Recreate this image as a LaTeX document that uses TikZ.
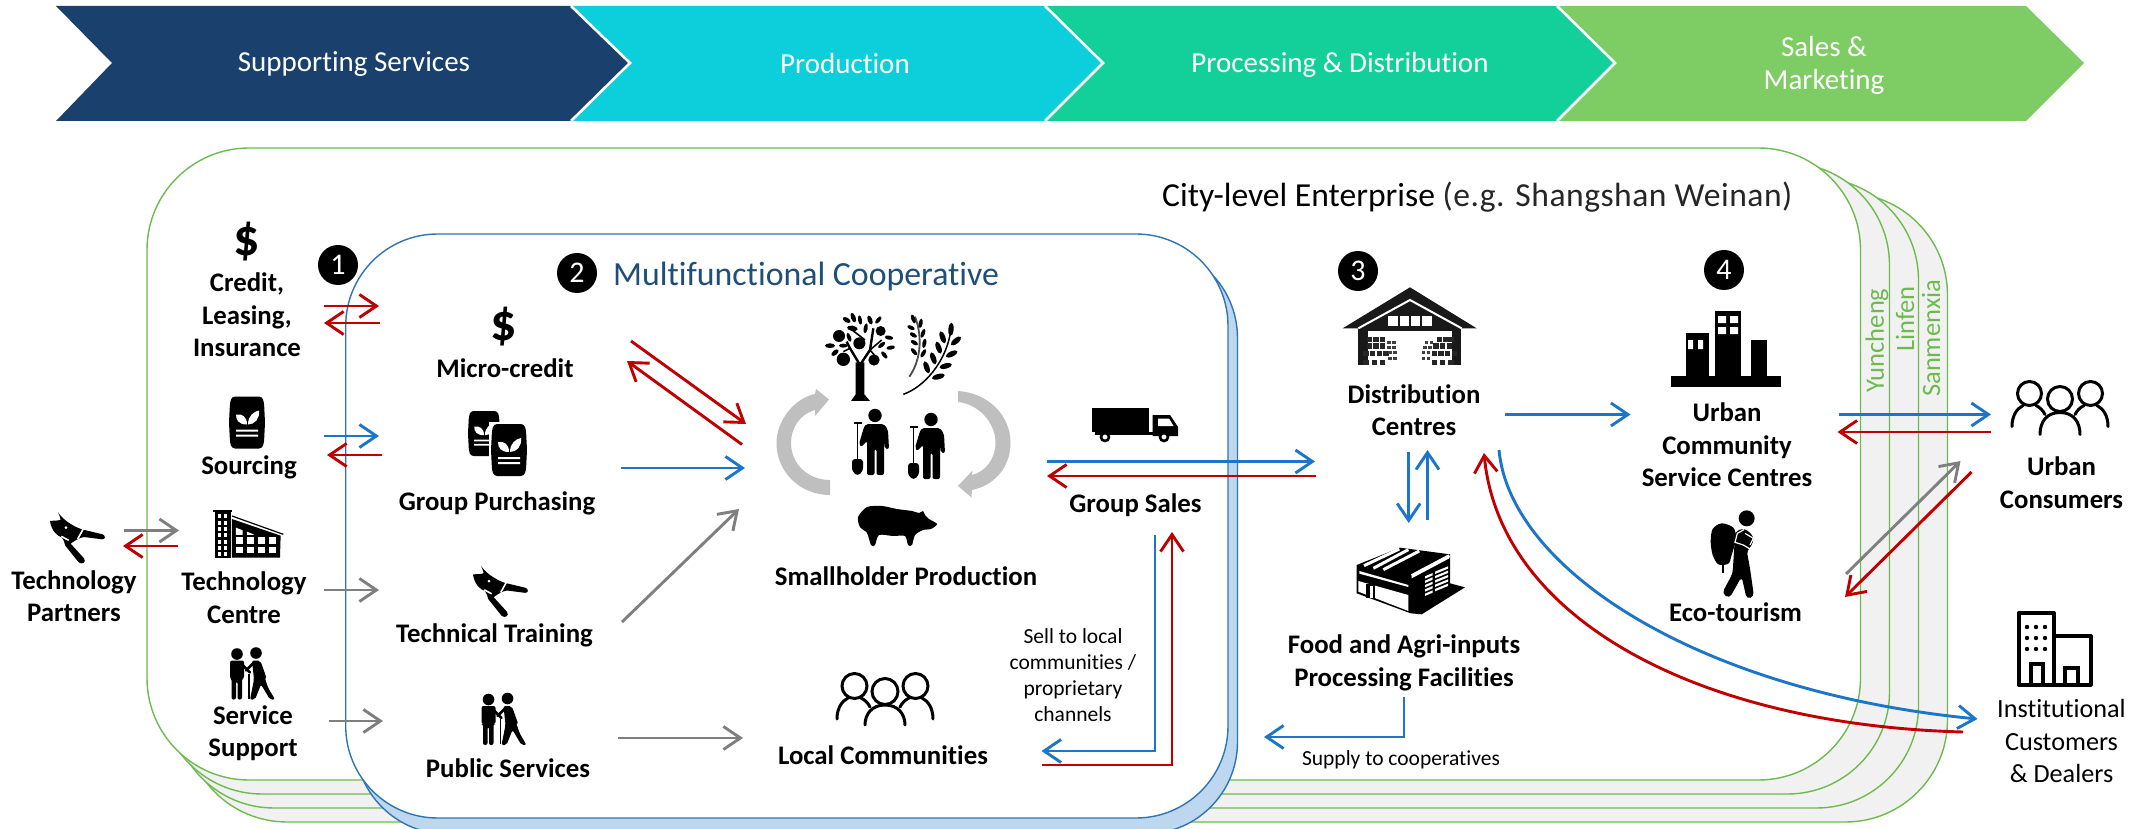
\documentclass[tikz,border=0pt]{standalone}
\usepackage{fontspec}
\setmainfont{Carlito}[Ligatures={NoCommon,TeX}]
\usetikzlibrary{arrows.meta}
\definecolor{navy}{HTML}{1A406D}
\definecolor{cyanbar}{HTML}{0DCFDB}
\definecolor{tealbar}{HTML}{13D09B}
\definecolor{greenbar}{HTML}{7ECC64}
\definecolor{greenline}{HTML}{6DBB4E}
\definecolor{stackfill}{HTML}{F1F1F1}
\definecolor{coopline}{HTML}{2E75B6}
\definecolor{coopback}{HTML}{BDD7EE}
\definecolor{arrblue}{HTML}{1B75C9}
\definecolor{arrred}{HTML}{C00000}
\definecolor{arrgrey}{HTML}{7F7F7F}
\definecolor{cyclegrey}{HTML}{BFBFBF}
\definecolor{cooptitle}{HTML}{1F4E79}
\tikzset{
  stackbox/.style={draw=greenline,line width=1.4pt,fill=stackfill,rounded corners=102pt},
  chevsep/.style={draw=white,line width=2.6pt,line join=miter},
  chevtext/.style={text=white,inner sep=0pt,align=center,font=\fontsize{29}{33}\selectfont},
  lab/.style={inner sep=0pt,align=center,font=\fontsize{26.8}{32.4}\selectfont\bfseries},
  reglab/.style={inner sep=0pt,align=center,font=\fontsize{26.2}{32.4}\selectfont},
  smalllab/.style={inner sep=0pt,align=center,font=\fontsize{21.5}{26}\selectfont},
  citylab/.style={inner sep=0pt,rotate=90,anchor=west,text=greenline,font=\fontsize{26.5}{26}\selectfont},
  numdot/.style={circle,fill=black,text=white,inner sep=0pt,minimum size=40pt,font=\fontsize{30}{30}\selectfont},
  dollar/.style={inner sep=0pt,font=\fontsize{52}{52}\selectfont\bfseries},
  bluearr/.style={draw=arrblue,line width=2.9pt,-{Straight Barb[length=17pt,width=23pt,line width=2.9pt]}},
  redarr/.style={draw=arrred,line width=2.9pt,-{Straight Barb[length=17pt,width=23pt,line width=2.9pt]}},
  greyarr/.style={draw=arrgrey,line width=2.9pt,-{Straight Barb[length=17pt,width=23pt,line width=2.9pt]}},
  peopleline/.style={draw=black,line width=3pt,line cap=round}
}
\newcommand\conn[6]{\coordinate (#1a) at (#3,#4);\coordinate (#1b) at (#5,#6);\draw[#2] (#1a) -- (#1b);}
\newcommand\sackicon[4]{\begin{scope}[shift={(#1,#2)},xscale=#3/36,yscale=#4/52]
 \fill[black,rounded corners=3pt] (3,0) -- (33,0) -- (35,6) -- (36,26) -- (35,46) -- (33,52) -- (3,52) -- (1,46) -- (0,26) -- (1,6) -- cycle;
 \fill[white] (18,28) .. controls (10,28) and (7,24) .. (7,18) .. controls (13,17) and (18,20) .. (18,28) -- cycle;
 \fill[white] (19,28) .. controls (19,19) and (25,15) .. (30,14) .. controls (31,22) and (26,28) .. (19,28) -- cycle;
 \fill[white] (7,33) rectangle (29,35) (7,38) rectangle (29,40);
\end{scope}}
\newcommand\shearsicon[2]{\begin{scope}[shift={(#1,#2)},scale=0.3333]
 \fill[black] (30,48) .. controls (42,46) and (55,48) .. (62,44) .. controls (62,36) and (56,30) .. (54,22) .. controls (66,40) and (90,60) .. (125,73) -- (188,88) .. controls (198,92) and (196,104) .. (186,103) -- (132,96) .. controls (120,98) and (108,104) .. (92,116) -- (132,160) .. controls (140,172) and (126,180) .. (116,172) -- (76,122) .. controls (72,112) and (72,104) .. (66,98) .. controls (50,92) and (34,76) .. (30,48) -- cycle;
 \fill[white] (78,68) circle (4.5);
 \draw[white,line width=1.6pt] (132,68) -- (113,102);
 \draw[white,line width=1.6pt] (64,94) -- (86,106);
\end{scope}}
\newcommand\coupleicon[4]{\begin{scope}[shift={(#1,#2)},xscale=#3/50,yscale=#4/52]
 \fill[black] (11,6.5) circle (5.8) (30,5.5) circle (5.8);
 \fill[black,rounded corners=2pt] (4,13) -- (18,13) -- (18,31) -- (16,31) -- (16,52) -- (11.5,52) -- (11.5,34) -- (10,34) -- (10,52) -- (5.5,52) -- (5.5,31) -- (4,31) -- cycle;
 \draw[black,line width=2.6pt,line cap=round] (16,17) -- (24,25);
 \draw[black,line width=1.2pt] (23,26) -- (23,51);
 \fill[black,rounded corners=2pt] (26,13) -- (34,13) -- (38,28) -- (42,40) -- (49,52) -- (44,52) -- (35,37) -- (29,52) -- (24,52) -- (28,32) -- cycle;
 \draw[black,line width=2.6pt,line cap=round] (28,15) -- (20,23);
 \draw[black,line width=2.6pt,line cap=round] (34,16) -- (39,30);
\end{scope}}
\newcommand\farmericon[2]{\begin{scope}[shift={(#1,#2)}]
 \fill[black] (23,6.5) circle (6.7);
 \fill[black,rounded corners=2pt] (14,15) -- (32,15) -- (36,21) -- (37,40) -- (33,40) -- (32,30) -- (32,66) -- (24.5,66) -- (24.5,40) -- (22.5,40) -- (22.5,66) -- (15,66) -- (15,32) -- (9,38) -- (7,35) -- (12,18) -- cycle;
 \draw[black,line width=1.6pt] (5.5,15) -- (5.5,50);
 \draw[black,line width=1.8pt] (1.5,14) -- (9.5,14);
 \fill[black,rounded corners=3pt] (0,50) -- (11,50) -- (11,62) -- (5.5,67) -- (0,62) -- cycle;
\end{scope}}
\newcommand\lf[5]{\fill[black,rotate around={#3:(#1,#2)}] (#1,#2) ellipse (#4 and #5);}
\begin{document}
\begin{tikzpicture}[x=1pt,y=-1pt]
\useasboundingbox (0,0) rectangle (2148,829);
\clip (0,0) rectangle (2148,829);
% value chain
\fill[white] (0,0) rectangle (2148,829);
\fill[greenbar] (1557,6) -- (2026,6) -- (2084,63) -- (2026,121) -- (1557,121) -- (1615,63) -- cycle;
\fill[tealbar] (1045,6) -- (1557,6) -- (1615,63) -- (1557,121) -- (1045,121) -- (1103,63) -- cycle;
\fill[cyanbar] (571,6) -- (1045,6) -- (1103,63) -- (1045,121) -- (571,121) -- (630,63) -- cycle;
\fill[navy] (56,6) -- (571,6) -- (630,63) -- (571,121) -- (56,121) -- (112,63) -- cycle;
\draw[chevsep] (571,6) -- (630,63) -- (571,121);
\draw[chevsep] (1045,6) -- (1103,63) -- (1045,121);
\draw[chevsep] (1557,6) -- (1615,63) -- (1557,121);
\node[chevtext] (chev1) at (354,64.5) {Supporting Services};
\node[chevtext] (chev2) at (845,64) {Production};
\node[chevtext] (chev3) at (1340,64.5) {Processing \& Distribution};
\node[chevtext] (chev4) at (1824,65.5) {Sales \&\\Marketing};
% enterprise stack
\draw[stackbox] (185,193) rectangle (1947.5,822);
\draw[stackbox] (172,178) rectangle (1918.5,808);
\draw[stackbox] (160,163) rectangle (1889.5,794);
\draw[stackbox,fill=white] (147,148) rectangle (1860.5,780);
% cooperative
\draw[draw=coopline,line width=1.4pt,fill=coopback,rounded corners=92pt] (355,246) rectangle (1237.5,834);
\draw[draw=coopline,line width=1.4pt,fill=white,rounded corners=92pt] (345.7,234) rectangle (1228,818);
% city labels
\node[citylab] (yun) at (1877,393) {Yuncheng};
\node[citylab] (lin) at (1905,352) {Linfen};
\node[citylab] (san) at (1931,397) {Sanmenxia};
% titles
\node[inner sep=0pt,anchor=west,font=\fontsize{33.6}{33}\selectfont] (city) at (1162,197) {City-level Enterprise \addfontfeature{LetterSpace=1.5}\textcolor{black!85}{(e.g. Shangshan Weinan)}};
\node[inner sep=0pt,anchor=west,text=cooptitle,font=\fontsize{33.8}{33}\selectfont] (cooptitle) at (613,276) {Multifunctional Cooperative};
\node[numdot] (n1) at (338,265) {1};
\node[numdot] (n2) at (577,273) {2};
\node[numdot] (n3) at (1358,271) {3};
\node[numdot] (n4) at (1724,270) {4};
% labels
\node[lab] (credit) at (247,315) {Credit,\\Leasing,\\Insurance};
\node[lab] (sourcing) at (249,467) {Sourcing};
\node[lab] (techcentre) at (244,597.5) {Technology\\Centre};
\node[lab] (techpart) at (74,596) {Technology\\Partners};
\node[lab] (service) at (253,733) {Service\\Support};
\node[lab] (micro) at (505,368) {Micro-credit};
\node[lab] (group) at (497,503) {Group Purchasing};
\node[lab] (train) at (494.5,635) {Technical Training};
\node[lab] (public) at (508,768) {Public Services};
\node[lab] (small) at (906,576.5) {Smallholder Production};
\node[lab] (local) at (883,755) {Local Communities};
\node[lab] (gsales) at (1135.5,505) {Group Sales};
\node[smalllab] (sell) at (1073,675.5) {Sell to local\\communities /\\proprietary\\channels};
\node[lab] (dist) at (1414,410) {Distribution\\Centres};
\node[lab] (food) at (1404,663) {Food and Agri-inputs\\Processing Facilities};
\node[smalllab] (supply) at (1401,760) {Supply to cooperatives};
\node[lab] (urbanc) at (1727,445) {Urban\\Community\\Service Centres};
\node[lab] (eco) at (1735.5,612) {Eco-tourism};
\node[lab] (consumers) at (2061.5,482.5) {Urban\\Consumers};
\node[reglab] (inst) at (2061.5,741) {Institutional\\Customers\\\& Dealers};
% dollars
\node[dollar] (d1) at (247,242) {\$};
\node[dollar] (d2) at (504,327) {\$};
% arrows
\conn{a1}{redarr}{324}{306}{379}{306}
\conn{a2}{redarr}{380}{323}{324}{323}
\conn{a3}{bluearr}{324}{436}{379}{436}
\conn{a4}{redarr}{382}{455}{327}{455}
\conn{a5}{greyarr}{124}{530.5}{179}{530.5}
\conn{a6}{redarr}{178}{546}{123}{546}
\conn{a7}{greyarr}{324}{590}{379}{590}
\conn{a8}{greyarr}{329}{721}{383}{721}
\conn{a9}{redarr}{631}{341}{746}{424}
\conn{a10}{redarr}{742}{444.5}{627}{361}
\conn{a11}{bluearr}{621}{468}{745}{468}
\conn{a12}{greyarr}{622}{622}{739}{509}
\conn{a13}{greyarr}{618}{738}{743}{738}
\conn{a14}{bluearr}{1047}{461.5}{1315}{461.5}
\conn{a15}{redarr}{1315.5}{476}{1047}{476}
\coordinate (b1a) at (1155,534.5); \coordinate (b1c) at (1155,751); \coordinate (b1b) at (1041.5,751);
\draw[bluearr] (b1a) -- (b1c) -- (b1b);
\coordinate (b2a) at (1041.5,765); \coordinate (b2c) at (1172,765); \coordinate (b2b) at (1172,532);
\draw[redarr] (b2a) -- (b2c) -- (b2b);
\conn{a16}{bluearr}{1408.7}{452}{1408.7}{523}
\conn{a17}{bluearr}{1427.5}{520}{1427.5}{450}
\coordinate (b3a) at (1404,697); \coordinate (b3c) at (1404,737); \coordinate (b3b) at (1264,737);
\draw[bluearr] (b3a) -- (b3c) -- (b3b);
\conn{a18}{bluearr}{1505}{414.5}{1630.5}{414.5}
\conn{a19}{bluearr}{1839}{414.5}{1991}{414.5}
\conn{a20}{redarr}{1990.5}{432}{1837.5}{432}
\conn{a21}{greyarr}{1846}{574}{1960.5}{461}
\conn{a22}{redarr}{1971.5}{472}{1845}{597}
\coordinate (b4a) at (1499,450); \coordinate (b4b) at (1977.5,719);
\draw[bluearr] (b4a) .. controls (1510,570) and (1700,692) .. (b4b);
\coordinate (b5a) at (1963,732); \coordinate (b5b) at (1484,453);
\draw[redarr] (b5a) .. controls (1700,725) and (1500,620) .. (b5b);
% cycle arrows
\fill[cyclegrey] (830,495) .. controls (800,495) and (776.5,472) .. (776.5,443) .. controls (776.5,420) and (795,398) .. (815,394) -- (816,389) -- (829,399.5) -- (815,416) -- (815,410) .. controls (800,414) and (791,428) .. (791,443) .. controls (791,464) and (808,480) .. (830,480) -- cycle;
\fill[cyclegrey] (958,391) .. controls (988,393) and (1010.5,415) .. (1010.5,443) .. controls (1010.5,468) and (993,486) .. (972,490) -- (971.5,497.5) -- (958,486) -- (972.5,470.5) -- (972,475) .. controls (985,472) and (995.5,459) .. (995.5,443) .. controls (995.5,422) and (978,404) .. (958,402) -- cycle;
% sacks
\sackicon{229}{396.5}{36}{52}
\sackicon{468}{411}{32}{45}
\path[fill=white] (489,422) rectangle (528,476);
\sackicon{491}{424}{36}{52}
% shears
\shearsicon{40}{505}
\shearsicon{463}{558.5}
% tech centre building
\begin{scope}[shift={(40,505)},scale=0.3333]
 \fill[black] (520,14) rectangle (576,22);
 \fill[black] (525,20) rectangle (572,158);
 \foreach \yy in {28,47,66,85,104,123,142}{\foreach \xx in {533,551}{\fill[white] (\xx,\yy) rectangle ++(11,12);}}
 \fill[black] (576,42) -- (722,92) -- (720,158) -- (576,158) -- cycle;
 \draw[black,line width=1.2pt] (576,33) -- (730,88);
 \foreach \xx in {588,621,654,687}{\fill[white] (\xx,97) rectangle ++(20,20);\fill[white] (\xx,125) rectangle ++(20,20);}
 \fill[white] (588,68) -- (608,76) -- (608,90) -- (588,90) -- cycle;
 \fill[white] (621,80) -- (641,88) -- (641,90) -- (621,90) -- cycle;
\end{scope}
% couples
\coupleicon{226}{647.5}{50}{52}
\coupleicon{477.5}{693}{50}{52}
% tree and wheat
\begin{scope}[shift={(815,305)},scale=0.3333]
 \fill[black] (122,172) -- (148,172) -- (148,268) -- (165,288) -- (108,288) -- (122,268) -- cycle;
 \draw[black,line width=2.4pt] (135,180) -- (105,130) -- (95,110);
 \draw[black,line width=2.4pt] (135,180) -- (165,135) -- (175,70);
 \draw[black,line width=1.6pt] (105,70) -- (150,105) (165,135) -- (200,105) (85,140) -- (105,130) (165,135) -- (178,150);
 \fill[black] (72,93) circle (18) (133,115) circle (18) (197,78) circle (15) (85,163) circle (20) (177,165) circle (17);
 \lf{45}{122}{0}{15}{7}\lf{60}{143}{40}{13}{7}\lf{85}{122}{0}{13}{6}\lf{102}{97}{-70}{14}{6}
 \lf{95}{45}{-30}{13}{7}\lf{115}{38}{-70}{15}{7}\lf{135}{45}{-80}{14}{6}\lf{165}{45}{-70}{14}{7}
 \lf{190}{45}{50}{13}{6}\lf{112}{70}{-10}{16}{8}\lf{152}{70}{80}{15}{6}\lf{222}{98}{-10}{13}{6}
 \lf{200}{120}{40}{13}{6}\lf{227}{128}{10}{13}{6}\lf{208}{150}{-50}{13}{6}
 \draw[black!70,line width=1.8pt] (283,215) .. controls (315,170) and (325,100) .. (300,35);
 \draw[black,line width=1.5pt] (265,268) .. controls (330,245) and (390,170) .. (405,90);
 \lf{295}{42}{-70}{14}{6}\lf{317}{55}{80}{14}{6}\lf{288}{68}{-25}{12}{6}\lf{324}{85}{70}{14}{6}
 \lf{295}{90}{-30}{12}{6}\lf{328}{115}{80}{14}{6}\lf{298}{113}{-30}{12}{6}\lf{325}{145}{60}{14}{6}\lf{297}{140}{-50}{13}{6}
 \lf{408}{73}{85}{20}{8}\lf{383}{97}{-70}{19}{8}\lf{423}{108}{40}{19}{8}\lf{371}{128}{-70}{19}{8}
 \lf{410}{147}{25}{19}{8}\lf{355}{160}{-70}{19}{8}\lf{392}{183}{15}{19}{8}\lf{335}{187}{-70}{19}{8}\lf{370}{215}{15}{20}{8}
\end{scope}
% farmers
\farmericon{852}{409}
\farmericon{908}{413}
% pig
\begin{scope}[shift={(857,505)}]
 \fill[black,smooth cycle,tension=0.45] plot coordinates {(1,12) (10,2) (25,1) (40,4) (55,6) (62,8) (66,6) (68,10) (72,14) (80,19) (74,24) (66,25) (58,30) (55,40) (51,40) (48,31) (36,31) (22,30) (18,40) (14,40) (10,28) (3,22)};
\end{scope}
% truck
\fill[black] (1092,407.5) rectangle (1149,431.5);
\fill[black] (1095,431.5) rectangle (1178,435);
\fill[black] (1152.5,415) -- (1170,415) -- (1178,427) -- (1178,436) -- (1152.5,436) -- cycle;
\fill[white] (1158,418.5) -- (1169,418.5) -- (1173.5,426) -- (1158,426) -- cycle;
\draw[black,fill=white,line width=2.6pt] (1105,437) circle (4) (1164,437) circle (4);
% warehouse
\begin{scope}[shift={(1330,280)},scale=0.3333]
 \fill[black!90] (38,145) -- (240,22) -- (440,145) -- cycle;
 \fill[black!90] (85,145) rectangle (393,153);
 \fill[black!90] (85,150) rectangle (113,255);
 \fill[black!90] (367,150) rectangle (393,255);
 \draw[white,line width=2pt] (85,145) -- (240,60) -- (395,145);
 \foreach \xx in {175,209,243,277}{\fill[white] (\xx,107) rectangle ++(28,30);}
 \foreach \xx/\yy in {110/170,130/170,150/170,110/190,130/190,150/190,100/213,120/213,140/213,160/213,100/240,125/240,150/240,320/170,340/170,355/170,310/190,330/190,350/190,305/213,325/213,345/213,365/213,305/240,330/240,355/240}{\fill[black!85] (\xx,\yy) rectangle ++(16,16);}
 \foreach \xx/\yy in {172/183,187/183,172/198,187/198,175/213,190/213,175/230,190/230,285/183,300/183,280/198,295/198,275/213,290/213,275/230,290/230}{\fill[black!75] (\xx,\yy) rectangle ++(10,10);}
\end{scope}
% factory
\begin{scope}[shift={(1340,535)},scale=0.3333]
 \fill[black] (50,90) -- (180,38) -- (330,58) -- (330,145) -- (375,157) -- (245,238) -- (212,235) -- (50,175) -- cycle;
 \fill[white] (55,138) -- (205,180) -- (205,228) -- (55,170) -- cycle;
 \fill[black] (78,148) rectangle (104,190);
 \fill[white] (90,152) rectangle (98,190);
 \foreach \aa/\bb/\cc/\dd in {72/92/178/42,100/100/205/44,130/104/238/48,215/122/328/62}{\draw[white,line width=3pt] (\aa,\bb) -- (\cc,\dd);}
 \fill[white] (215,122) -- (328,62) -- (328,70) -- (215,130) -- cycle;
 \fill[white] (58,108) -- (205,150) -- (205,156) -- (58,116) -- cycle;
 \foreach \yy in {0,13,26,39,52}{\fill[white] (255,124+\yy) -- (278,114+\yy) -- (278,121+\yy) -- (255,131+\yy) -- cycle;\fill[white] (285,110+\yy) -- (324,94+\yy) -- (324,101+\yy) -- (285,117+\yy) -- cycle;}
\end{scope}
% city
\fill[black] (1671,376) rectangle (1781,387);
\fill[black] (1685.5,333) rectangle (1708.5,376);
\fill[black] (1715,310.5) rectangle (1741,376);
\fill[black] (1751,340) rectangle (1767,376);
\fill[white] (1688,340) rectangle (1693,349) (1698,340) rectangle (1703,349);
\fill[white] (1718,316) rectangle (1726,323) (1730,316) rectangle (1738,323) (1718,327) rectangle (1726,334) (1730,327) rectangle (1738,334);
% hiker
\begin{scope}[shift={(1700,505)},scale=0.3333]
 \fill[black] (140,40) circle (24);
 \fill[black,smooth cycle,tension=0.5] plot coordinates {(38,72) (65,55) (100,68) (108,100) (95,150) (85,176) (55,178) (38,150) (32,110)};
 \fill[black] (65,170) rectangle (72,205);
 \fill[black,rounded corners=4pt] (106,78) -- (135,70) -- (162,95) -- (155,125) -- (140,135) -- (150,190) -- (162,275) -- (140,282) -- (125,215) -- (88,280) -- (66,265) -- (98,205) -- (100,170) -- cycle;
 \draw[white,line width=1.2pt] (132,74) -- (112,85) -- (105,112) -- (130,120) -- (155,135);
 \draw[white,line width=1.2pt] (135,85) -- (160,100) -- (150,120);
\end{scope}
% people
\begin{scope}[shift={(2012,379.5)}]
 \draw[peopleline] (17.5,14) circle (12) (78.5,14) circle (12) (48,19.5) circle (12.5);
 \draw[peopleline] (0,47) .. controls (0,36) and (5,29) .. (11,26) (24,26) .. controls (28,28) and (31,31) .. (33,35);
 \draw[peopleline] (28,55) .. controls (28,42) and (35,33) .. (48,33) .. controls (61,33) and (68,42) .. (68,55);
 \draw[peopleline] (96,47) .. controls (96,36) and (91,29) .. (85,26) (72,26) .. controls (68,28) and (65,31) .. (63,35);
\end{scope}
\begin{scope}[shift={(837,672)}]
 \draw[peopleline] (17.5,14) circle (12.5) (78.5,14) circle (12.5) (48,19.5) circle (13);
 \draw[peopleline] (0,47) .. controls (0,36) and (5,29) .. (11,26) (24,26) .. controls (28,28) and (31,31) .. (33,35);
 \draw[peopleline] (28,53) .. controls (28,42) and (35,33) .. (48,33) .. controls (61,33) and (68,42) .. (68,53);
 \draw[peopleline] (96,47) .. controls (96,36) and (91,29) .. (85,26) (72,26) .. controls (68,28) and (65,31) .. (63,35);
\end{scope}
% institutional
\draw[black,line width=4pt,line join=round] (2018.5,684.5) -- (2018.5,613) -- (2054,613) -- (2054,636) -- (2090.5,636) -- (2090.5,684.5) -- cycle;
\draw[black,line width=4pt] (2054,636) -- (2054,684);
\draw[black,line width=3.5pt] (2031,684) -- (2031,664) -- (2043,664) -- (2043,684);
\draw[black,line width=3.5pt] (2065,684) -- (2065,668) -- (2078,668) -- (2078,684);
\foreach \yy in {627,638,649}{\foreach \xx in {2027,2036,2045}{\fill[black] (\xx,\yy) circle (2.2);}}
\end{tikzpicture}
\end{document}
